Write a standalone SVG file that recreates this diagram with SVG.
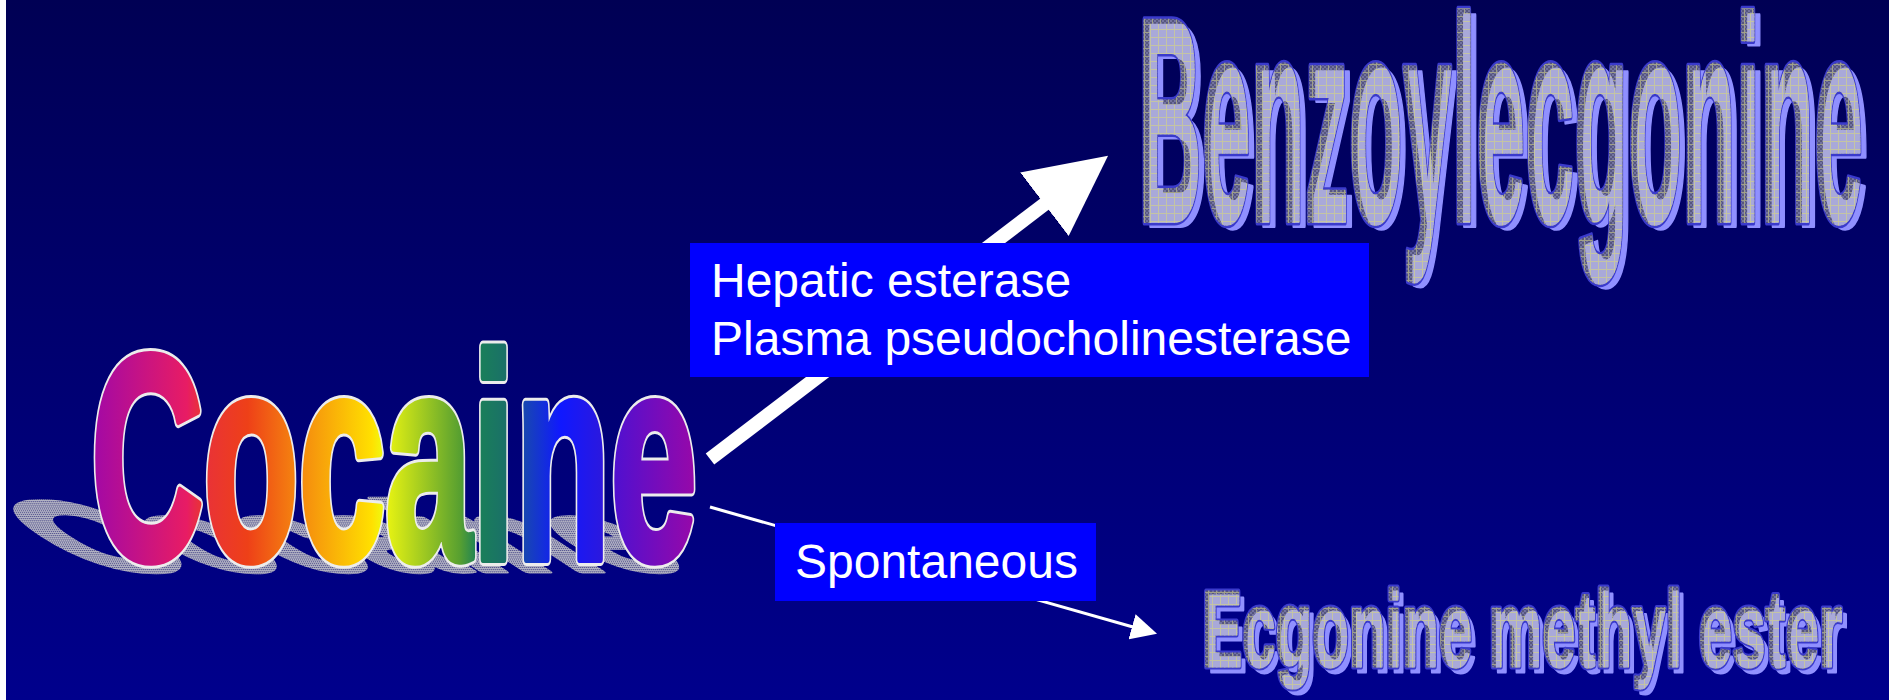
<svg xmlns="http://www.w3.org/2000/svg" xmlns:xlink="http://www.w3.org/1999/xlink" width="1889" height="700" viewBox="0 0 1889 700">
<style>
.word{font-family:"Liberation Sans",Arial,sans-serif;font-weight:bold;stroke-linejoin:round}
.lbl{font-family:"Liberation Sans",Arial,sans-serif;font-size:48px;fill:#ffffff}
.box{fill:#0000ff}
.back{fill:#9090ff;stroke:#9090ff}
.dark{fill:url(#darkGrid);stroke:url(#darkGrid)}
.light{fill:url(#lightGrid);stroke:url(#lightGrid)}
.ring{fill:none;stroke:#3a3acc}
.b4{stroke-width:4}
.b3{stroke-width:3}
</style>
<defs>
<linearGradient id="bg" x1="0" y1="0" x2="0" y2="1">
<stop offset="0" stop-color="#000054"/>
<stop offset="1" stop-color="#00008c"/>
</linearGradient>
<linearGradient id="rainbow" gradientUnits="userSpaceOnUse" x1="90" y1="0" x2="696" y2="0">
<stop offset="0" stop-color="#a008a8"/>
<stop offset="0.16" stop-color="#e81c64"/>
<stop offset="0.18" stop-color="#e8303c"/>
<stop offset="0.26" stop-color="#ee4018"/>
<stop offset="0.335" stop-color="#f48010"/>
<stop offset="0.465" stop-color="#ffe000"/>
<stop offset="0.483" stop-color="#f0f810"/>
<stop offset="0.61" stop-color="#58a030"/>
<stop offset="0.64" stop-color="#1a8058"/>
<stop offset="0.686" stop-color="#1a7068"/>
<stop offset="0.715" stop-color="#1848b0"/>
<stop offset="0.777" stop-color="#1018ff"/>
<stop offset="0.842" stop-color="#2a18e0"/>
<stop offset="0.865" stop-color="#5010d0"/>
<stop offset="1" stop-color="#9808a8"/>
</linearGradient>
<pattern id="shadowPat" patternUnits="userSpaceOnUse" width="2" height="2">
<rect width="2" height="2" fill="#b4b4c4"/>
<rect width="1" height="1" fill="#3a3a80"/>
</pattern>
<pattern id="lightGrid" patternUnits="userSpaceOnUse" width="8" height="8">
<rect width="8" height="8" fill="#a9a9d9"/>
<rect width="8" height="1" fill="#c4c4a4"/>
<rect width="1" height="8" fill="#c4c4a4"/>
</pattern>
<pattern id="darkGrid" patternUnits="userSpaceOnUse" width="8" height="8">
<rect width="8" height="8" fill="#7272a0"/>
<path d="M0 0h2v2H0z M4 0h2v2H4z M2 2h2v2H2z M6 2h2v2H6z M0 4h2v2H0z M4 4h2v2H4z M2 6h2v2H2z M6 6h2v2H6z" fill="#56567e"/>
<rect width="8" height="1" fill="#a0a088"/>
<rect width="1" height="8" fill="#a0a088"/>
</pattern>
<text id="cocT" class="word" x="91" y="559" font-size="292" textLength="606" lengthAdjust="spacingAndGlyphs">Cocaine</text>
<text id="benzT" class="word" x="1138" y="221" font-size="291" textLength="725" lengthAdjust="spacingAndGlyphs">Benzoylecgonine</text>
<text id="egmT" class="word" x="1202" y="666" font-size="108" textLength="640" lengthAdjust="spacingAndGlyphs">Ecgonine methyl ester</text>
<mask id="maskBenz" maskUnits="userSpaceOnUse" x="0" y="0" width="1889" height="700"><use xlink:href="#benzT" fill="#ffffff" stroke="#ffffff" stroke-width="4"/></mask>
<mask id="maskEgm" maskUnits="userSpaceOnUse" x="0" y="0" width="1889" height="700"><use xlink:href="#egmT" fill="#ffffff" stroke="#ffffff" stroke-width="3"/></mask>
<marker id="headBig" markerUnits="userSpaceOnUse" viewBox="0 0 80 80" refX="2" refY="40" markerWidth="80" markerHeight="80" orient="auto">
<path d="M0,0 L80,40 L0,80 z" fill="#ffffff"/>
</marker>
<marker id="headSmall" markerUnits="userSpaceOnUse" viewBox="0 0 26 26" refX="1" refY="13" markerWidth="26" markerHeight="26" orient="auto">
<path d="M0,0 L26,13 L0,26 z" fill="#ffffff"/>
</marker>
</defs>

<rect width="1889" height="700" fill="url(#bg)"/>
<rect width="6" height="700" fill="#ffffff"/>

<g id="connectors">
<path d="M710,459 L1046,203" stroke="#ffffff" stroke-width="14" fill="none" marker-end="url(#headBig)"/>
<path d="M710,507 L1133,627" stroke="#ffffff" stroke-width="3" fill="none" marker-end="url(#headSmall)"/>
</g>

<g id="cocaine">
<use xlink:href="#cocT" transform="matrix(1,0,0.52,0.34,-291,381)" fill="url(#shadowPat)" stroke="url(#shadowPat)" stroke-width="14"/>
<use xlink:href="#cocT" fill="#ececec" stroke="#ececec" stroke-width="14"/>
<use xlink:href="#cocT" fill="url(#rainbow)" stroke="url(#rainbow)" stroke-width="8"/>
</g>

<g id="benzoylecgonine">
<use xlink:href="#benzT" class="back b4" transform="translate(6,5)"/>
<use xlink:href="#benzT" class="ring" style="stroke-width:9"/>
<use xlink:href="#benzT" class="dark b4"/>
<g mask="url(#maskBenz)"><use xlink:href="#benzT" class="light b4" transform="translate(6,5)"/></g>
</g>

<g id="ecgonine-methyl-ester">
<use xlink:href="#egmT" class="back b3" transform="translate(5,6)"/>
<use xlink:href="#egmT" class="ring" style="stroke-width:7"/>
<use xlink:href="#egmT" class="dark b3"/>
<g mask="url(#maskEgm)"><use xlink:href="#egmT" class="light b3" transform="translate(4,4)"/></g>
</g>

<g id="label-enzymes">
<rect class="box" x="690" y="243" width="679" height="134"/>
<text class="lbl" x="711" y="297">Hepatic esterase</text>
<text class="lbl" x="711" y="355">Plasma pseudocholinesterase</text>
</g>

<g id="label-spontaneous">
<rect class="box" x="775" y="523" width="321" height="78"/>
<text class="lbl" x="795" y="578">Spontaneous</text>
</g>
</svg>
